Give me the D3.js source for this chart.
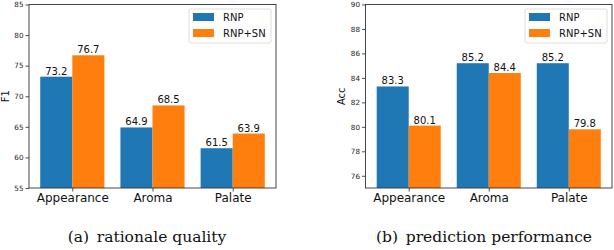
<!DOCTYPE html>
<html>
<head>
<meta charset="utf-8">
<script src="https://cdn.jsdelivr.net/npm/d3@7"></script>
<style>
  body { margin: 0; background: #fff; }
  svg { display: block; }
  svg text { font-family: "DejaVu Sans", sans-serif; }
  svg text.caption { font-family: "DejaVu Serif", serif; }
</style>
</head>
<body>
<svg id="chart" width="614" height="250"></svg>
<script>
var categories = ["Appearance", "Aroma", "Palate"];
var seriesNames = ["RNP", "RNP+SN"];
var colors = ["#1f77b4", "#ff7f0e"];

var f1Rnp = [73.2, 64.9, 61.5];
var f1RnpSn = [76.7, 68.5, 63.9];
var f1Ticks = [55, 60, 65, 70, 75, 80, 85];

var accRnp = [83.3, 85.2, 85.2];
var accRnpSn = [80.1, 84.4, 79.8];
var accTicks = [76, 78, 80, 82, 84, 86, 88, 90];

var svg = d3.select("#chart");

var drawPanel = function (opts) {
    let g = svg.append("g");
    let top = 4.5, bottom = 188;

    let xScale = d3.scaleLinear()
        .domain([-0.54, 2.54])
        .range([opts.left, opts.right]);
    let yScale = d3.scaleLinear()
        .domain(opts.yDomain)
        .range([bottom, top]);

    let series = [opts.a, opts.b];
    series.forEach((vals, s) => {
        let off = s === 0 ? -0.4 : 0;
        g.selectAll(null)
            .data(vals)
            .enter().append("rect")
            .attr("x", (d, i) => xScale(i + off))
            .attr("width", xScale(0.4) - xScale(0))
            .attr("y", d => yScale(d))
            .attr("height", d => bottom - yScale(d))
            .attr("fill", colors[s]);
        g.selectAll(null)
            .data(vals)
            .enter().append("text")
            .attr("x", (d, i) => xScale(i + off + 0.2))
            .attr("y", d => yScale(d) - 2)
            .attr("text-anchor", "middle")
            .style("font-size", "10px")
            .attr("fill", "#111")
            .text(d => d.toFixed(1));
    });

    // axes
    let yAxis = d3.axisLeft(yScale).tickValues(opts.ticks).tickSize(3.5).tickPadding(2);
    let ya = g.append("g").attr("transform", "translate(" + opts.left + ",0)").call(yAxis);
    ya.attr("font-family", null);
    ya.select(".domain").remove();
    ya.selectAll("text").style("font-size", "7.2px").attr("fill", "#222");
    ya.selectAll("line").attr("stroke", "#222").attr("stroke-width", 0.8);

    let xAxis = d3.axisBottom(xScale).tickValues([0, 1, 2]).tickSize(3.5).tickPadding(1.5)
        .tickFormat(i => categories[i]);
    let xa = g.append("g").attr("transform", "translate(0," + bottom + ")").call(xAxis);
    xa.attr("font-family", null);
    xa.select(".domain").remove();
    xa.selectAll("text").style("font-size", "12px").attr("fill", "#111");
    xa.selectAll("line").attr("stroke", "#222").attr("stroke-width", 0.8);

    // frame
    g.append("rect")
        .attr("x", opts.left).attr("y", top)
        .attr("width", opts.right - opts.left).attr("height", bottom - top)
        .attr("fill", "none").attr("stroke", "#333").attr("stroke-width", 0.9);

    // y label
    g.append("text")
        .attr("transform", "translate(" + opts.labelX + "," + ((top + bottom) / 2) + ") rotate(-90)")
        .attr("text-anchor", "middle")
        .style("font-size", "10px")
        .attr("fill", "#111")
        .text(opts.yLabel);

    // legend
    let lg = g.append("g").attr("transform", "translate(" + opts.legendX + ",9)");
    lg.append("rect")
        .attr("width", 82).attr("height", 34).attr("rx", 2)
        .attr("fill", "#fff").attr("stroke", "#d6d6d6").attr("stroke-width", 0.8);
    seriesNames.forEach((name, s) => {
        lg.append("rect")
            .attr("x", 4).attr("y", 4 + s * 16)
            .attr("width", 21).attr("height", 8)
            .attr("fill", colors[s]);
        lg.append("text")
            .attr("x", 34).attr("y", 12 + s * 16)
            .style("font-size", "10px")
            .attr("fill", "#111")
            .text(name);
    });

    // caption
    svg.append("text")
        .attr("class", "caption")
        .attr("x", opts.capX).attr("y", 242)
        .style("font-size", "15.5px")
        .attr("fill", "#111")
        .attr("text-anchor", "middle")
        .text(opts.caption);
};

drawPanel({
    left: 29, right: 276, yDomain: [55, 85], ticks: f1Ticks,
    a: f1Rnp, b: f1RnpSn, yLabel: "F1", labelX: 9,
    legendX: 189, capX: 147, caption: "(a)\u2002rationale quality"
});

drawPanel({
    left: 365.5, right: 612, yDomain: [75, 90], ticks: accTicks,
    a: accRnp, b: accRnpSn, yLabel: "Acc", labelX: 345,
    legendX: 525, capX: 484, caption: "(b)\u2002prediction performance"
});
</script>
</body>
</html>
